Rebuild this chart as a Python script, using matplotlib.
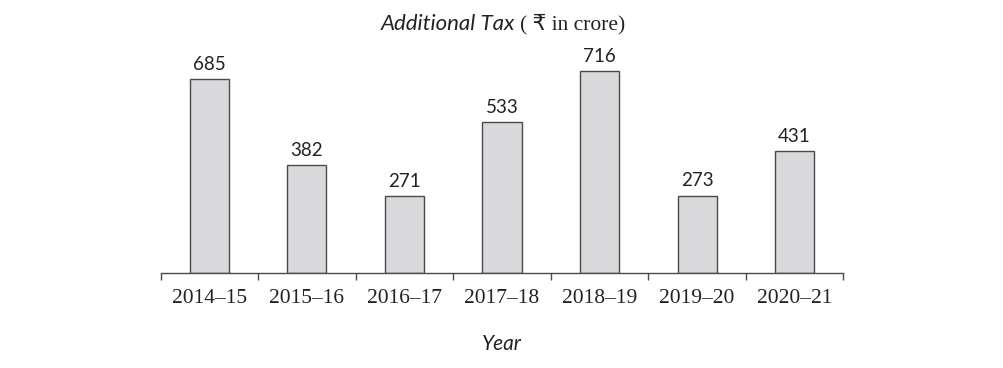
import matplotlib.pyplot as plt
import numpy as np

years = ['2014–15', '2015–16', '2016–17', '2017–18', '2018–19', '2019–20', '2020–21']
tax = [685, 382, 271, 533, 716, 273, 431]

pos = np.arange(len(years))

fig = plt.figure(figsize=(10.04, 3.68), dpi=100)
ax = fig.add_axes([0.160, 0.2592, 0.680, 0.613])

ax.bar(pos, tax, width=0.4, color='#d9d9dc', edgecolor='#4a4a4a', linewidth=1.0)
for x, v in zip(pos, tax):
    ax.text(x, v + 22, str(v), ha='center', va='bottom', fontsize=13.5,
            family='Lato', color='#222222')

ax.set_xlim(-0.5, len(years) - 0.5)
ax.set_ylim(0, 800)

# ticks on category boundaries, labels on bar centres
ax.set_xticks(np.arange(-0.5, len(years)), labels=[])
ax.set_xticks(pos, labels=years, minor=True)
ax.tick_params(axis='x', which='major', direction='out', length=5, width=1.0, color='#4a4a4a')
ax.tick_params(axis='x', which='minor', length=0, pad=12, labelsize=15.5, labelcolor='#222222')
for lbl in ax.get_xticklabels(minor=True):
    lbl.set_family('Liberation Serif')
ax.set_yticks([])

for side in ['left', 'right', 'top']:
    ax.spines[side].set_visible(False)
ax.spines['bottom'].set_color('#4a4a4a')
ax.spines['bottom'].set_linewidth(1.0)

fig.text(0.518, 0.935, 'Additional Tax ', ha='right', va='center', fontsize=16,
         style='italic', family='Lato', color='#222222')
fig.text(0.518, 0.935, '( ₹ in crore)', ha='left', va='center', fontsize=15.5,
         family=['Liberation Serif', 'DejaVu Sans'], color='#222222')
fig.text(0.5, 0.066, 'Year', ha='center', va='center', fontsize=15,
         style='italic', family='Lato', color='#222222')

fig.savefig('out.png', dpi=100)
